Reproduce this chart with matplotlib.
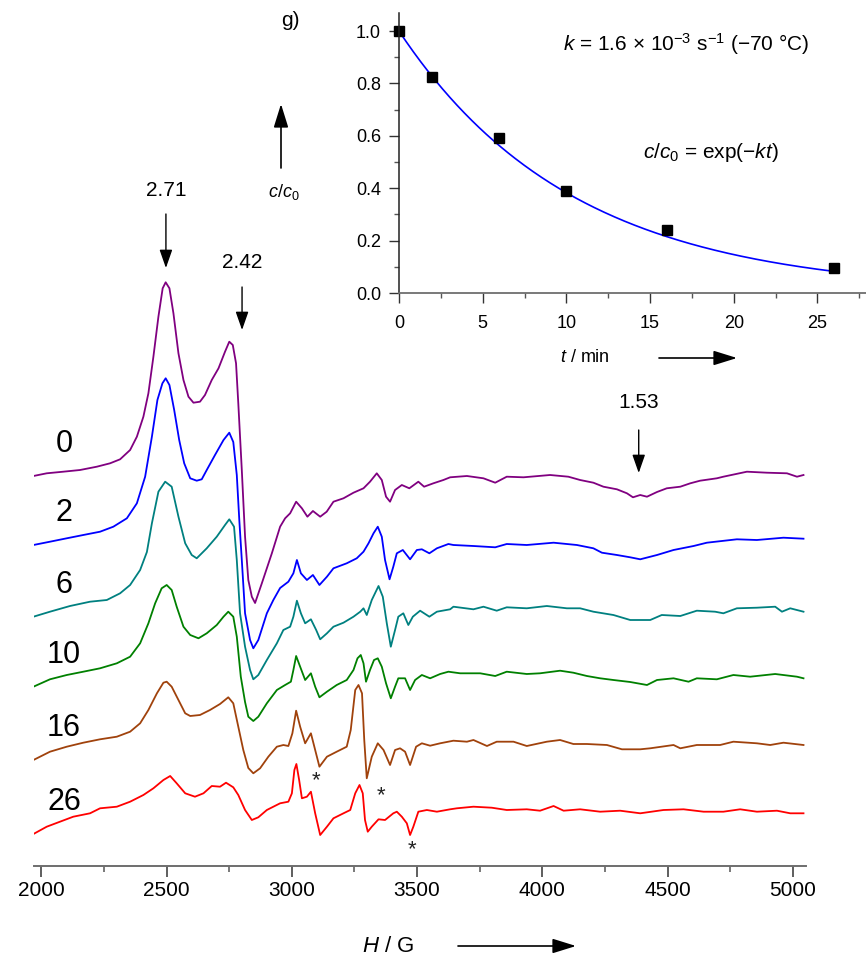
import numpy as np
import matplotlib
matplotlib.use("Agg")
import matplotlib.pyplot as plt
from matplotlib.ticker import MultipleLocator

plt.rcParams['font.family'] = ['Liberation Sans', 'DejaVu Sans']
plt.rcParams['mathtext.fontset'] = 'custom'
plt.rcParams['mathtext.rm'] = 'Liberation Sans'
plt.rcParams['mathtext.it'] = 'Liberation Sans:italic'

# ---------------- EPR spectra (field in G, signal in a.u.) ----------------
times_min = [0, 2, 6, 10, 16, 26]
trace_colors = ['#800080', '#0000ff', '#008080', '#008000', '#a0420c', '#ff0000']

field_0 = [1968, 2021, 2087, 2154, 2221, 2274, 2314, 2354, 2381, 2407, 2427, 2447, 2467, 2484, 2496,
           2511, 2527, 2547, 2567, 2587, 2607, 2633, 2653, 2680, 2707, 2733, 2750, 2764, 2777, 2786,
           2800, 2813, 2826, 2840, 2853, 2880, 2920, 2953, 2973, 2993, 3017, 3040, 3062, 3084, 3113,
           3139, 3166, 3206, 3246, 3286, 3312, 3339, 3359, 3376, 3392, 3412, 3439, 3469, 3505, 3528,
           3565, 3605, 3632, 3699, 3765, 3812, 3858, 3925, 4031, 4104, 4151, 4204, 4244, 4298, 4338,
           4362, 4391, 4418, 4458, 4497, 4551, 4591, 4630, 4697, 4723, 4817, 4897, 4977, 5017, 5043]
signal_0 = [0, 2.7, 4.3, 6, 9.3, 12.7, 16.7, 26, 39.3, 59.3, 82.7, 119.3, 159.3, 187.7, 193.7,
            187.7, 162.7, 122.7, 96, 79.3, 73.3, 74.3, 81, 96, 107.7, 124.3, 134.3, 131, 112.7, 72.7,
            6, -60.7, -104, -120.7, -127, -107.3, -77.3, -50.7, -42.3, -37.3, -25.7, -32.3, -40.7, -35, -40.7,
            -35.7, -25.7, -22.3, -16.7, -12.3, -5.7, 2.7, -4, -20.7, -25.7, -14, -9, -12.3, -5.7, -10.7,
            -7.3, -4, -1.3, 0, -2.3, -6.7, -0.7, -1.3, 1, -0.7, -4, -6.7, -10.7, -13.3, -17.3,
            -21.3, -19, -20.7, -16, -12.3, -10.7, -7.3, -4.7, -2.3, -0.7, 4.3, 3.3, 2.7, -0.7, 1]

field_2 = [1968, 2034, 2101, 2167, 2234, 2287, 2341, 2381, 2414, 2441, 2463, 2483, 2496, 2511, 2530,
           2550, 2570, 2594, 2620, 2640, 2660, 2693, 2727, 2750, 2766, 2780, 2790, 2800, 2813, 2833,
           2846, 2866, 2900, 2926, 2953, 2986, 3006, 3020, 3036, 3060, 3084, 3110, 3140, 3166, 3219,
           3259, 3286, 3306, 3326, 3343, 3359, 3372, 3390, 3405, 3419, 3443, 3472, 3499, 3519, 3549,
           3579, 3625, 3645, 3725, 3812, 3858, 3938, 4045, 4138, 4204, 4238, 4298, 4351, 4391, 4458,
           4524, 4604, 4657, 4777, 4857, 4963, 5043]
signal_2 = [0, 3.3, 6.7, 10, 13.3, 18.3, 26.7, 41.7, 68.3, 108.3, 145, 161.7, 166.7, 160, 135,
            105, 81.7, 66.7, 64.3, 65.7, 75, 90, 105, 112.3, 103, 70, 25, -15, -68.3, -95,
            -103.3, -95, -68.3, -55, -43, -36.7, -28.3, -15, -28.3, -35, -30, -40, -31.7, -23.3, -18.3,
            -13.3, -6.7, 1.7, 11.7, 18.3, 8.3, -15, -34.3, -21.7, -8.3, -5, -14.3, -5, -4.3, -8.3,
            -3.3, 1, 0, -1, -2.3, 1, 0, 2.3, 0, -3.3, -7.7, -10, -12.3, -14.3, -10,
            -5, -1, 2.3, 5.7, 5, 7.3, 6.3]

field_6 = [1968, 2034, 2114, 2194, 2261, 2314, 2354, 2394, 2421, 2441, 2467, 2494, 2520, 2547, 2574,
           2600, 2620, 2660, 2700, 2733, 2750, 2769, 2780, 2793, 2813, 2833, 2846, 2866, 2900, 2940,
           2966, 2993, 3006, 3020, 3036, 3053, 3076, 3097, 3113, 3140, 3166, 3206, 3246, 3273, 3286,
           3299, 3319, 3346, 3363, 3379, 3395, 3412, 3425, 3445, 3465, 3483, 3512, 3549, 3579, 3632,
           3645, 3725, 3765, 3818, 3858, 3938, 4018, 4098, 4151, 4204, 4284, 4351, 4431, 4477, 4551,
           4617, 4690, 4723, 4777, 4857, 4930, 4957, 4990, 5043]
signal_6 = [0, 5, 10.7, 15, 16.7, 23.4, 31.7, 46.7, 64.7, 93.4, 125, 135, 130, 100, 73.4,
            61.7, 58.4, 68.4, 80, 91.7, 97.4, 90, 56.7, 3.4, -30, -53.3, -62.6, -58.3, -43.3, -26.6,
            -13.3, -10, 0, 16, 3.4, -6.6, -2.6, -13.3, -22.6, -16.6, -10, -6, 0, 5, 8.4,
            1.7, 16.7, 30.7, 20, -6.6, -30, -13.3, 0, 3.4, -8.3, 0, 6, 0, 5, 7.4,
            10, 7.4, 10, 6, 9.4, 8.4, 10.7, 8.4, 8.4, 5, 1.7, -3.3, -3.3, 1.7, 0.7,
            6, 5, 3.4, 8.4, 9, 10, 5, 8.4, 5]

field_10 = [1968, 2034, 2101, 2167, 2234, 2301, 2354, 2394, 2427, 2454, 2480, 2500, 2520, 2540, 2567,
            2594, 2627, 2660, 2700, 2727, 2746, 2766, 2780, 2796, 2813, 2826, 2846, 2866, 2900, 2940,
            2973, 2996, 3006, 3017, 3033, 3053, 3076, 3093, 3110, 3140, 3179, 3219, 3246, 3262, 3275,
            3286, 3296, 3312, 3328, 3343, 3359, 3376, 3395, 3412, 3425, 3452, 3472, 3492, 3519, 3552,
            3592, 3625, 3672, 3752, 3812, 3858, 3938, 3991, 4071, 4124, 4178, 4231, 4284, 4351, 4418,
            4458, 4524, 4584, 4617, 4697, 4763, 4830, 4930, 5017, 5043]
signal_10 = [0, 7.4, 11.7, 15, 18.4, 23.4, 30, 43.4, 63.4, 83.4, 98.4, 101.7, 96.7, 80, 60,
             51.7, 48.4, 53.4, 61.7, 70, 75, 70, 50, 10, -15.3, -30, -34.3, -30, -16.6, -3.3,
             1.7, 5, 16.7, 30.7, 20, 6.7, 13.4, 0, -10.6, -5, 1.7, 6.7, 16.7, 28.4, 31.7,
             23.4, 5, 16.7, 26.7, 28.4, 20, 3.4, -11.6, 0, 8.4, 8.4, -3.3, 6.7, 11.7, 8.4,
             12.7, 15, 13.4, 13.4, 10.7, 15, 12.7, 13.4, 16, 14, 10.7, 8.4, 6.7, 4.7, 1.7,
             6.7, 8.4, 5, 8.4, 7.4, 11.7, 10, 12.7, 10, 8.4]

field_16 = [1968, 2034, 2101, 2167, 2234, 2301, 2354, 2394, 2427, 2461, 2487, 2500, 2520, 2547, 2574,
            2594, 2633, 2673, 2713, 2746, 2766, 2786, 2806, 2826, 2846, 2873, 2906, 2940, 2966, 2986,
            3002, 3017, 3033, 3053, 3076, 3093, 3110, 3140, 3179, 3219, 3235, 3253, 3266, 3280, 3289,
            3299, 3319, 3343, 3366, 3392, 3412, 3432, 3452, 3472, 3496, 3519, 3552, 3592, 3645, 3699,
            3725, 3779, 3818, 3885, 3938, 4018, 4071, 4124, 4178, 4258, 4318, 4391, 4431, 4524, 4551,
            4617, 4710, 4763, 4857, 4910, 4963, 5043]
signal_16 = [0, 8.3, 13.3, 17.3, 20.7, 23.3, 28.3, 36.7, 50, 66.7, 77.3, 78.3, 73.3, 60, 46.7,
             44, 45, 50, 56, 62.7, 56.7, 33.3, 10, -8, -13.3, -8.3, 3.3, 13.3, 15, 14,
             26.7, 49.3, 33.3, 16.7, 26.7, 10, -6.7, 3.3, 8.3, 13.3, 30, 70, 75, 66.7, 20,
             -18.3, 3.3, 16.7, 10, -5, 10, 11.7, 8.3, -5, 13.3, 16.7, 14.3, 16.7, 19.3, 18.3,
             20, 14, 18.3, 18.3, 14, 18.3, 20, 16, 16, 15, 10.7, 10.7, 11.7, 15, 11.7,
             15, 15, 18.3, 16.7, 15, 17.3, 15]

field_26 = [1968, 2021, 2074, 2127, 2194, 2234, 2301, 2354, 2407, 2447, 2487, 2514, 2540, 2574, 2613,
            2647, 2680, 2713, 2737, 2766, 2786, 2813, 2840, 2866, 2900, 2926, 2953, 2986, 3000, 3010,
            3018, 3029, 3040, 3060, 3076, 3093, 3113, 3140, 3166, 3206, 3233, 3253, 3270, 3283, 3292,
            3303, 3319, 3346, 3372, 3405, 3419, 3439, 3459, 3472, 3485, 3505, 3539, 3579, 3632, 3659,
            3725, 3798, 3858, 3938, 3991, 4045, 4085, 4151, 4231, 4311, 4391, 4484, 4564, 4644, 4723,
            4790, 4857, 4937, 4990, 5043]
signal_26 = [0, 7.3, 12.3, 17.3, 20.7, 25.7, 27.3, 32.3, 39, 45.7, 54, 58, 50.7, 40.7, 37.3,
             40.7, 48, 47.3, 51.3, 46.7, 39, 24, 14, 16.7, 24, 27.3, 30.7, 32.3, 40.7, 64,
             70, 54, 35.7, 37.3, 42.3, 20.7, -1, 7.3, 15.7, 20.7, 24, 40.7, 49, 40.7, 14,
             2.3, 7.3, 14.7, 14, 20.7, 22.3, 17.3, 10.7, -1, 7.3, 22.3, 24, 22.3, 24.7, 25.7,
             27.3, 26.3, 24, 24.7, 23.3, 28, 23.3, 24.7, 22.3, 23.3, 20.7, 24, 24.7, 22.3, 22.3,
             24.7, 22.3, 23.3, 20.7, 20.7]

fields = [field_0, field_2, field_6, field_10, field_16, field_26]
signals = [signal_0, signal_2, signal_6, signal_10, signal_16, signal_26]
trace_offsets = [390, 321, 249.3, 179.3, 106, 32]

# g-value markers and impurity lines
g_markers = [(2.71, 2497), (2.42, 2801), (1.53, 4385)]
asterisk_fields = [3097, 3356, 3480]

# ---------------- decay kinetics ----------------
t_points = [0, 2, 6, 10, 16, 26]
c_ratio = [1.0, 0.825, 0.59, 0.39, 0.242, 0.094]
k_rate = 1.6e-3  # s^-1 at -70 degC

W, H = 866, 960
fig = plt.figure(figsize=(W / 100, H / 100), dpi=100)


def fx(px):
    return px / W


def fy(py):
    return 1 - py / H


# main spectra axes: y data units correspond to pixel rows above the field axis
ax = fig.add_axes([fx(33.7), fy(866), fx(806) - fx(33.7), fy(0) - fy(866)])
ax.set_xlim(1969, 5053)
ax.set_ylim(0, 866)
for side in ('left', 'right', 'top'):
    ax.spines[side].set_visible(False)
ax.spines['bottom'].set_color('#6e6e6e')
ax.spines['bottom'].set_linewidth(1.4)
ax.set_yticks([])
ax.xaxis.set_major_locator(MultipleLocator(500))
ax.xaxis.set_minor_locator(MultipleLocator(250))
ax.tick_params(axis='x', which='major', direction='out', length=8, width=1.1,
               color='#333333', labelsize=15, pad=3)
ax.tick_params(axis='x', which='minor', direction='out', length=4, width=1.1, color='#555555')
ax.patch.set_alpha(0)

for f, s, off, col in zip(fields, signals, trace_offsets, trace_colors):
    ax.plot(f, np.asarray(s) + off, color=col, lw=1.3, solid_joinstyle='round')

for t, off in zip(times_min, trace_offsets):
    ax.text(2090, off + 32, str(t), fontsize=22, ha='center', va='center')

# g-value arrows
g_arrow_rows = [(214, 268, 190), (287, 330, 262), (430, 473, 402)]
for (g, hf), (y0, y1, yt) in zip(g_markers, g_arrow_rows):
    ax.annotate('', xy=(hf, 866 - y1), xytext=(hf, 866 - y0),
                arrowprops=dict(arrowstyle='-|>,head_length=0.8,head_width=0.28',
                                mutation_scale=14, color='black', lw=1.0,
                                shrinkA=0, shrinkB=0))
    ax.text(hf, 866 - yt, f'{g:.2f}', fontsize=15, ha='center', va='center')

for hf, row in zip(asterisk_fields, [781, 796, 850]):
    ax.text(hf, 866 - row, '*', fontsize=16, ha='center', va='center', color='#222222')

# field axis label with arrow
fig.text(fx(388), fy(946), r'$H$ / G', fontsize=16, ha='center', va='center')
fig.add_artist(matplotlib.patches.FancyArrowPatch(
    (fx(458), fy(946)), (fx(576), fy(946)), transform=fig.transFigure,
    arrowstyle='-|>,head_length=0.9,head_width=0.28', mutation_scale=16,
    color='black', lw=1.2, shrinkA=0, shrinkB=0))

# ---------------- inset: c/c0 vs time ----------------
ins = fig.add_axes([fx(399), fy(293), fx(866) - fx(399), fy(13) - fy(293)])
ins.set_xlim(0, 27.9)
ins.set_ylim(0, 1.069)
ins.patch.set_alpha(0)
for side in ('right', 'top'):
    ins.spines[side].set_visible(False)
ins.spines['left'].set_color('#222222')
ins.spines['bottom'].set_color('#6e6e6e')
ins.spines['left'].set_linewidth(1.1)
ins.spines['bottom'].set_linewidth(1.3)
ins.xaxis.set_major_locator(MultipleLocator(5))
ins.xaxis.set_minor_locator(MultipleLocator(2.5))
ins.yaxis.set_major_locator(MultipleLocator(0.2))
ins.yaxis.set_minor_locator(MultipleLocator(0.1))
ins.yaxis.set_major_formatter(matplotlib.ticker.FormatStrFormatter('%.1f'))
ins.tick_params(which='major', direction='out', length=7, width=1.0, color='#333333',
                labelsize=13, pad=6)
ins.tick_params(axis='x', which='major', pad=9)
ins.tick_params(which='minor', direction='out', length=3.5, width=1.0, color='#555555')

t_fit = np.linspace(0, 26, 300)
ins.plot(t_fit, np.exp(-k_rate * 60 * t_fit), color='#0000ff', lw=1.2)
ins.plot(t_points, c_ratio, 's', color='black', ms=7, clip_on=False)

fig.text(fx(686), fy(44), r'$k$ = 1.6 × 10$^{-3}$ s$^{-1}$ (−70 °C)', fontsize=15,
         ha='center', va='center')
fig.text(fx(711), fy(153), r'$c$/$c_0$ = exp(−$kt$)', fontsize=15, ha='center', va='center')
fig.text(fx(290), fy(20), 'g)', fontsize=15, ha='center', va='center')
fig.text(fx(284), fy(192), r'$c$/$c_0$', fontsize=13, ha='center', va='center')
fig.add_artist(matplotlib.patches.FancyArrowPatch(
    (fx(281), fy(168)), (fx(281), fy(104)), transform=fig.transFigure,
    arrowstyle='-|>,head_length=0.9,head_width=0.28', mutation_scale=16,
    color='black', lw=1.2, shrinkA=0, shrinkB=0))

fig.text(fx(585), fy(357), r'$t$ / min', fontsize=13, ha='center', va='center')
fig.add_artist(matplotlib.patches.FancyArrowPatch(
    (fx(659), fy(358)), (fx(737), fy(358)), transform=fig.transFigure,
    arrowstyle='-|>,head_length=0.9,head_width=0.28', mutation_scale=16,
    color='black', lw=1.2, shrinkA=0, shrinkB=0))

fig.savefig('out.png', dpi=100)
